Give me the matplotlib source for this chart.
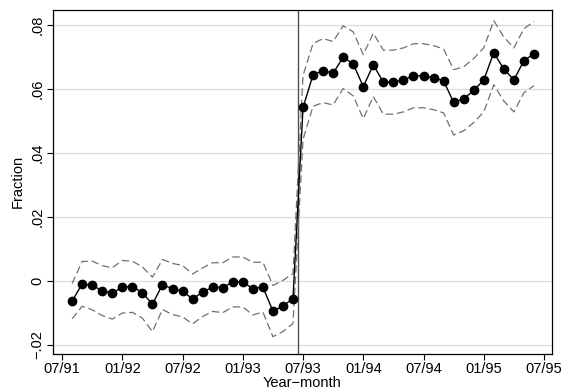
import numpy as np
import matplotlib
matplotlib.use("Agg")
import matplotlib.pyplot as plt

plt.rcParams['font.family'] = ['Liberation Sans', 'DejaVu Sans']

# month index, 0 = 07/91
months = list(range(1, 48))

# estimates
coef = [-0.0063, -0.0009, -0.0014, -0.0030, -0.0039, -0.0018, -0.0018, -0.0036,
        -0.0073, -0.0011, -0.0025, -0.0032, -0.0056, -0.0035, -0.0019, -0.0021,
        -0.0003, -0.0003, -0.0024, -0.0019, -0.0094, -0.0078, -0.0055,
        0.0542, 0.0644, 0.0657, 0.0649, 0.0699, 0.0678, 0.0607, 0.0675, 0.0621,
        0.0621, 0.0628, 0.0641, 0.0641, 0.0635, 0.0625, 0.0558, 0.0569, 0.0595,
        0.0628, 0.0713, 0.0662, 0.0628, 0.0688, 0.0710]

# upper / lower confidence bounds
ci_hi = [-0.0008, 0.0061, 0.0062, 0.0048, 0.0041, 0.0064, 0.0062, 0.0044,
         0.0012, 0.0067, 0.0055, 0.0048, 0.0022, 0.0041, 0.0057, 0.0057,
         0.0075, 0.0075, 0.0058, 0.0059, -0.0014, 0.0002, 0.0023,
         0.0642, 0.0742, 0.0757, 0.0748, 0.0797, 0.0778, 0.0707, 0.0774, 0.0721,
         0.0721, 0.0728, 0.0741, 0.0741, 0.0735, 0.0725, 0.0660, 0.0669, 0.0695,
         0.0728, 0.0813, 0.0762, 0.0728, 0.0788, 0.0810]
ci_lo = [-0.0118, -0.0079, -0.0090, -0.0108, -0.0119, -0.0100, -0.0098, -0.0116,
         -0.0158, -0.0089, -0.0105, -0.0112, -0.0134, -0.0111, -0.0095, -0.0099,
         -0.0081, -0.0081, -0.0106, -0.0097, -0.0174, -0.0158, -0.0133,
         0.0442, 0.0546, 0.0557, 0.0550, 0.0601, 0.0578, 0.0507, 0.0576, 0.0521,
         0.0521, 0.0528, 0.0541, 0.0541, 0.0535, 0.0525, 0.0456, 0.0469, 0.0495,
         0.0528, 0.0613, 0.0562, 0.0528, 0.0588, 0.0610]

break_month = 23.5

xtick_pos = [0, 6, 12, 18, 24, 30, 36, 42, 48]
xtick_labels = ['07/91', '01/92', '07/92', '01/93', '07/93', '01/94', '07/94', '01/95', '07/95']
ytick_pos = [-0.02, 0, 0.02, 0.04, 0.06, 0.08]
ytick_labels = ['\u2212.02', '0', '.02', '.04', '.06', '.08']

fig = plt.figure(figsize=(5.61, 3.92), dpi=100)
ax = fig.add_axes([0.094, 0.097, 0.890, 0.878])

for y in ytick_pos:
    ax.axhline(y, color='#dcdcdc', lw=0.9, zorder=0)

ax.plot(months, ci_hi, color='#707070', lw=0.9, linestyle=(0, (6, 3)), zorder=2)
ax.plot(months, ci_lo, color='#707070', lw=0.9, linestyle=(0, (6, 3)), zorder=2)
ax.plot(months, coef, color='black', lw=1.0, marker='o', markersize=6.0, zorder=3)
ax.axvline(break_month, color='#505050', lw=1.0, zorder=1)

ax.set_xlim(-0.93, 48.8)
ax.set_ylim(-0.0228, 0.0847)
ax.set_xticks(xtick_pos)
ax.set_xticklabels(xtick_labels, fontsize=10.5)
ax.set_yticks(ytick_pos)
ax.set_yticklabels(ytick_labels, fontsize=10.5, rotation=90, va='center')
ax.tick_params(direction='out', length=4, width=0.8, color='black', pad=2)
for s in ax.spines.values():
    s.set_linewidth(0.9)
    s.set_color('black')

ax.set_xlabel('Year\u2212month', fontsize=10.5, labelpad=0)
ax.set_ylabel('Fraction', fontsize=10.5, labelpad=4)

fig.savefig('out.png', dpi=100, facecolor='white')
